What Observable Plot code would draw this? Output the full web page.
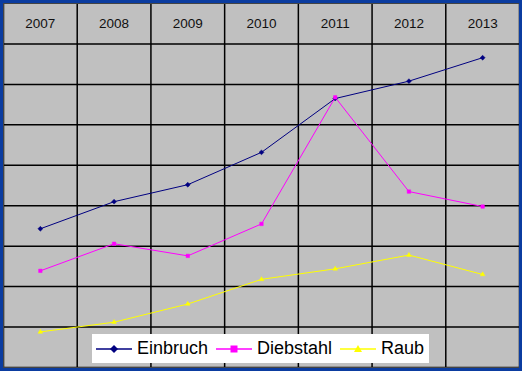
<!DOCTYPE html>
<html>
<head>
<meta charset="utf-8">
<script src="https://cdn.jsdelivr.net/npm/d3@7"></script>
<script src="https://cdn.jsdelivr.net/npm/@observablehq/plot@0.6"></script>
<style>
  html, body { margin: 0; padding: 0; background: #fff; }
  #wrap { position: relative; width: 522px; height: 371px; background: #0B3CA0; overflow: hidden; }
  #chart { position: absolute; left: 3px; top: 3px; }
  #legend { position: absolute; left: 92px; top: 334px; width: 337px; height: 29px; background: #fff; box-sizing: border-box; padding-left: 4px;
    font-family: Arial, "Liberation Sans", sans-serif; font-size: 18px; color: #000; display: flex; align-items: center; white-space: nowrap; }
  #legend .item { display: flex; align-items: center; margin-right: 8px; }
  #legend svg { margin-right: 5px; }
</style>
</head>
<body>
<div id="wrap"><div id="chart"></div><div id="legend"></div></div>
<script>
const years = [2007, 2008, 2009, 2010, 2011, 2012, 2013];
const einbruch  = [3.43, 4.10, 4.52, 5.32, 6.65, 7.08, 7.66];
const diebstahl = [2.39, 3.06, 2.76, 3.55, 6.68, 4.35, 3.98];
const raub      = [0.88, 1.12, 1.57, 2.18, 2.44, 2.78, 2.30];
const seriesNames = ["Einbruch", "Diebstahl", "Raub"];
const seriesColors = ["#000080", "#FF00FF", "#FFFF00"];
const seriesSymbols = ["diamond2", "square2", "triangle2"];
const gridTicks = [0, 1, 2, 3, 4, 5, 6, 7, 8];

const rows = [];
[einbruch, diebstahl, raub].forEach((vals, s) => {
  vals.forEach((v, i) => rows.push({year: years[i], value: v, series: seriesNames[s]}));
});

const yMax = gridTicks[gridTicks.length - 1];
const headerY = yMax + 0.5;
const bounds = [years[0] - 0.5, ...years.map(y => y + 0.5)];

const plot = Plot.plot({
  width: 516,
  height: 365,
  marginLeft: 0, marginRight: 0, marginTop: 0, marginBottom: 1,
  style: {background: "#C0C0C0", fontFamily: "Arial, 'Liberation Sans', sans-serif"},
  x: {domain: [years[0] - 0.5, years[years.length - 1] + 0.5], axis: null},
  y: {domain: [0, yMax + 1], axis: null},
  color: {domain: seriesNames, range: seriesColors},
  symbol: {domain: seriesNames, range: seriesSymbols},
  marks: [
    Plot.ruleY(gridTicks, {stroke: "#000", strokeWidth: 1.5}),
    Plot.ruleX(bounds, {stroke: "#000", strokeWidth: 1.5}),
    Plot.text(years, {x: d => d, y: () => headerY, text: d => String(d), fontSize: 13.5, fill: "#111"}),
    Plot.line(rows, {x: "year", y: "value", z: "series", stroke: "series", strokeWidth: 1}),
    Plot.dot(rows, {x: "year", y: "value", fill: "series", stroke: "series", symbol: "series", r: 2.2, strokeWidth: 0.5}),
    Plot.frame({stroke: "#444"})
  ]
});
document.getElementById("chart").appendChild(plot);

// legend
const legend = document.getElementById("legend");
const symPaths = {
  diamond2: "M0,-4L4,0L0,4L-4,0Z",
  square2: "M-3.5,-3.5h7v7h-7Z",
  triangle2: "M0,-4L4,3L-4,3Z"
};
seriesNames.forEach((name, i) => {
  const item = document.createElement("div");
  item.className = "item";
  item.innerHTML = `<svg width="36" height="12" viewBox="-18 -6 36 12"><line x1="-18" x2="18" y1="0" y2="0" stroke="${seriesColors[i]}" stroke-width="1.3"/><path d="${symPaths[seriesSymbols[i]]}" fill="${seriesColors[i]}"/></svg><span>${name}</span>`;
  legend.appendChild(item);
});
</script>
</body>
</html>
